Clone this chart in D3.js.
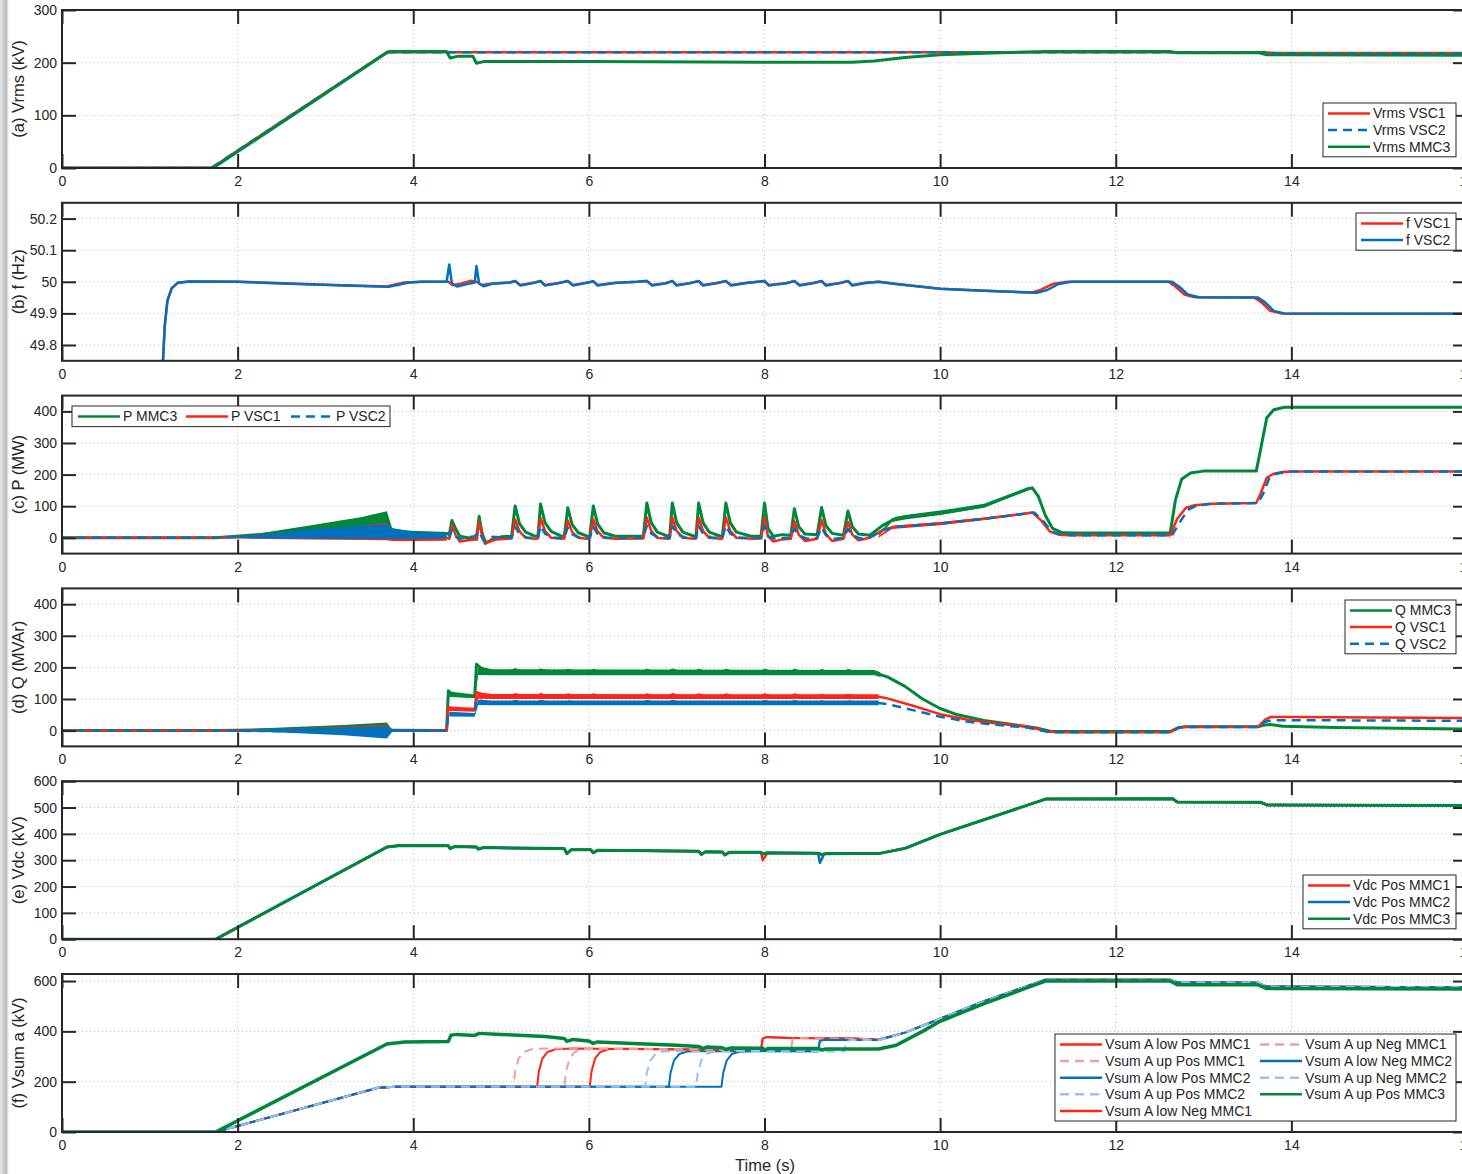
<!DOCTYPE html>
<html>
<head>
<meta charset="utf-8">
<script src="https://cdn.jsdelivr.net/npm/d3@7"></script>
<style>
  body { margin: 0; background: #fff; }
  text { font-family: "Liberation Sans", Arial, sans-serif; fill: #262626; }
</style>
</head>
<body>
<svg id="chart"></svg>
<script>
const width = 1462
const height = 1174

const red = '#ff2416'
const blue = '#0072bd'
const green = '#00883a'
const lightRed = '#f39d9d'
const lightBlue = '#94c2f4'

const xTicks = [0, 2, 4, 6, 8, 10, 12, 14, 16]

// (a) Vrms
const vrmsVSC1 = [[0,0],[1.7,0],[3.7,220],[13.68,220],[13.8,218.5],[16,218.5]]
const vrmsVSC2 = [[0,0],[1.7,0],[3.7,220],[13.7,220],[13.82,218],[16,218]]
const vrmsMMC3 = [[0,0],[1.72,0],[3.72,221],[4.38,221],[4.42,209],[4.5,212],[4.68,212],[4.72,199],[4.8,202],[6,202],[8,201],[9,201],[9.25,203],[9.6,210],[10,215],[10.5,218],[11.2,221],[12.62,221],[12.7,219],[13.62,219],[13.72,215],[16,214]]

// (b) frequency
const fVSC1 = [[1.15,49.75],[1.17,49.86],[1.2,49.94],[1.25,49.98],[1.32,49.997],[1.45,50.001],[2,50],[2.6,49.995],[3.2,49.989],[3.7,49.985],[3.78,49.991],[3.9,49.998],[4.1,50],[4.4,50],[4.45,49.989],[4.55,49.995],[4.65,50.003],[4.72,50],[4.78,49.99],[4.9,49.995],[5.1,49.998],[5.16,50.002],[5.22,49.99],[5.35,49.996],[5.45,50.002],[5.5,49.99],[5.65,49.996],[5.76,50.002],[5.82,49.99],[5.95,49.996],[6.05,50.001],[6.1,49.99],[6.3,49.997],[6.55,50],[6.66,50.002],[6.72,49.99],[6.88,49.996],[6.95,50.002],[7.0,49.99],[7.15,49.996],[7.25,50.002],[7.3,49.99],[7.45,49.996],[7.56,50.002],[7.62,49.99],[7.8,49.997],[8.0,50.002],[8.05,49.99],[8.25,49.996],[8.34,50.002],[8.4,49.99],[8.55,49.996],[8.65,50.002],[8.7,49.99],[8.85,49.996],[8.95,50.002],[9.0,49.99],[9.15,49.997],[9.3,50],[9.5,49.993],[10,49.978],[10.5,49.972],[11.05,49.966],[11.15,49.975],[11.28,49.993],[11.45,50],[12.6,50],[12.68,49.985],[12.78,49.96],[12.9,49.951],[13.58,49.95],[13.66,49.935],[13.76,49.908],[13.88,49.9],[16,49.899]]
const fVSC2 = [[1.15,49.75],[1.17,49.86],[1.2,49.94],[1.25,49.98],[1.32,49.997],[1.45,50.001],[2,50],[2.6,49.994],[3.2,49.988],[3.72,49.984],[3.82,49.99],[3.95,49.998],[4.1,50],[4.38,50],[4.41,50.055],[4.44,49.995],[4.5,49.985],[4.6,49.992],[4.7,49.998],[4.72,50.05],[4.75,49.995],[4.8,49.986],[4.9,49.994],[5.1,49.998],[5.16,50.003],[5.22,49.988],[5.35,49.995],[5.45,50.003],[5.5,49.988],[5.65,49.995],[5.76,50.003],[5.82,49.988],[5.95,49.995],[6.05,50.002],[6.1,49.988],[6.3,49.996],[6.55,50],[6.66,50.003],[6.72,49.988],[6.88,49.995],[6.95,50.003],[7.0,49.988],[7.15,49.995],[7.25,50.003],[7.3,49.988],[7.45,49.995],[7.56,50.003],[7.62,49.988],[7.8,49.996],[8.0,50.003],[8.05,49.988],[8.25,49.995],[8.34,50.003],[8.4,49.988],[8.55,49.995],[8.65,50.003],[8.7,49.988],[8.85,49.995],[8.95,50.003],[9.0,49.988],[9.15,49.996],[9.3,50],[9.5,49.993],[10,49.978],[10.5,49.972],[11.1,49.965],[11.22,49.974],[11.35,49.993],[11.5,50],[12.64,50],[12.72,49.985],[12.82,49.96],[12.95,49.951],[13.62,49.95],[13.7,49.935],[13.8,49.908],[13.92,49.9],[16,49.899]]

// (c) active power
const pMMC3 = [[0,0],[1.75,0],[3.7,40],[3.75,20],[4.38,14],[4.41,10],[4.44,55],[4.48,30],[4.53,5],[4.62,0],[4.72,-5],[4.75,68],[4.78,20],[4.82,-18],[4.9,-5],[5.0,3],[5.12,5],[5.16,101],[5.21,45],[5.28,18],[5.38,6],[5.42,5],[5.45,107],[5.5,48],[5.57,20],[5.68,6],[5.72,5],[5.76,95],[5.81,42],[5.88,16],[5.98,5],[6.01,4],[6.05,101],[6.1,44],[6.17,16],[6.3,5],[6.62,5],[6.66,110],[6.71,48],[6.78,18],[6.9,5],[6.92,5],[6.95,110],[7.0,48],[7.07,18],[7.2,5],[7.22,5],[7.25,110],[7.3,48],[7.37,18],[7.5,5],[7.52,5],[7.56,110],[7.61,48],[7.68,18],[7.85,5],[7.96,5],[8.0,110],[8.04,30],[8.1,5],[8.2,10],[8.3,8],[8.34,92],[8.39,35],[8.46,12],[8.6,10],[8.65,96],[8.7,38],[8.77,14],[8.9,8],[8.95,85],[9.0,35],[9.07,12],[9.2,8],[9.35,40],[9.5,62],[9.7,70],[10,78],[10.5,100],[11.0,155],[11.05,158],[11.12,130],[11.2,70],[11.28,30],[11.38,17],[11.5,15],[12.62,15],[12.68,120],[12.75,185],[12.85,205],[13,211],[13.6,211],[13.65,280],[13.72,380],[13.8,405],[13.92,413],[16,413]]
const pVSC1 = [[0,0],[1.75,0],[3.7,22],[3.75,5],[3.85,-5],[4.38,0],[4.41,-3],[4.44,40],[4.48,10],[4.53,-12],[4.62,-8],[4.72,-5],[4.75,50],[4.79,0],[4.84,-15],[4.95,-5],[5.12,-2],[5.16,58],[5.21,20],[5.28,0],[5.38,-3],[5.42,-2],[5.45,62],[5.5,22],[5.57,0],[5.68,-3],[5.72,-2],[5.76,55],[5.81,18],[5.88,0],[5.98,-3],[6.01,-2],[6.05,58],[6.1,20],[6.17,0],[6.3,-3],[6.62,-2],[6.66,64],[6.71,22],[6.78,0],[6.9,-3],[6.92,-2],[6.95,64],[7.0,22],[7.07,0],[7.2,-3],[7.22,-2],[7.25,64],[7.3,22],[7.37,0],[7.5,-3],[7.52,-2],[7.56,64],[7.61,22],[7.68,0],[7.85,-3],[7.96,-2],[8.0,64],[8.04,5],[8.1,-12],[8.2,-5],[8.3,-3],[8.34,52],[8.39,10],[8.46,-10],[8.6,-3],[8.65,56],[8.7,12],[8.77,-10],[8.9,-3],[8.95,50],[9.0,10],[9.07,-8],[9.2,0],[9.35,25],[9.5,35],[10,45],[10.5,60],[11.05,80],[11.15,55],[11.25,20],[11.35,10],[11.5,8],[12.62,8],[12.7,60],[12.8,95],[12.9,103],[13.1,108],[13.6,110],[13.65,140],[13.72,190],[13.8,203],[13.9,208],[14,210],[16,210]]
const pVSC2 = [[0,0],[1.75,0],[3.7,20],[3.75,8],[3.85,5],[4.38,5],[4.41,0],[4.44,25],[4.48,5],[4.53,-3],[4.7,5],[4.75,20],[4.8,-8],[4.9,3],[5.12,0],[5.16,35],[5.21,12],[5.3,0],[5.42,0],[5.45,38],[5.5,13],[5.6,0],[5.72,0],[5.76,33],[5.81,11],[5.9,0],[6.01,0],[6.05,35],[6.1,12],[6.2,0],[6.62,0],[6.66,38],[6.71,13],[6.8,0],[6.92,0],[6.95,38],[7.0,13],[7.1,0],[7.22,0],[7.25,38],[7.3,13],[7.4,0],[7.52,0],[7.56,38],[7.61,13],[7.7,0],[7.96,0],[8.0,38],[8.04,5],[8.12,-3],[8.3,0],[8.34,30],[8.39,8],[8.48,-3],[8.6,0],[8.65,32],[8.7,8],[8.8,-3],[8.9,0],[8.95,28],[9.0,8],[9.1,-3],[9.2,2],[9.35,25],[9.5,35],[10,45],[10.5,60],[11.07,80],[11.17,55],[11.27,20],[11.37,10],[11.5,8],[12.64,8],[12.72,45],[12.82,88],[12.92,102],[13.1,108],[13.62,110],[13.68,140],[13.75,190],[13.83,203],[13.93,208],[14,210],[16,210]]
const pMMC3Band = [[1.75,0,0],[2.2,0,12],[2.8,2,38],[3.4,4,65],[3.7,6,84],[3.76,14,30],[4.0,13,20],[4.38,12,17]]
const pVSC1Band = [[1.75,0,0],[2.2,-3,9],[2.8,-5,25],[3.4,-7,38],[3.7,-8,48],[3.76,-10,18],[4.0,-10,8],[4.38,-9,6]]
const pVSC2Band = [[1.75,0,0],[2.2,-2,8],[2.8,-3,26],[3.4,-4,38],[3.7,-4,43],[3.76,-4,30],[4.0,-4,18],[4.38,-3,15]]
const pMMC3Band2 = [[9.3,5,12],[9.45,50,62],[9.6,58,72],[10,72,86],[10.5,96,108],[11,150,160],[11.05,154,160]]
const pVSC1Band2 = [[9.3,0,5],[9.45,28,38],[10,40,50],[10.5,56,64],[11.05,76,82]]

// (d) reactive power
const qMMC3 = [[0,0],[1.75,0],[3.7,8],[3.76,1],[4.38,0],[4.4,126],[4.45,114],[4.55,110],[4.7,109],[4.72,210],[4.78,195],[4.9,186],[5.1,184],[5.16,193],[5.25,185],[5.4,184],[5.45,192],[5.55,184],[5.7,183],[5.76,191],[5.86,183],[6.0,183],[6.05,191],[6.15,182],[6.6,182],[6.66,191],[6.76,183],[6.9,183],[6.95,192],[7.05,183],[7.2,183],[7.25,191],[7.35,183],[7.5,183],[7.56,191],[7.66,183],[7.95,183],[8.0,191],[8.1,183],[8.3,183],[8.34,191],[8.44,183],[8.6,183],[8.65,190],[8.75,182],[8.9,183],[8.95,190],[9.05,183],[9.25,183],[9.4,170],[9.6,140],[9.8,100],[10,70],[10.2,50],[10.5,32],[10.8,20],[11.1,8],[11.25,-2],[11.4,-3],[12.62,-3],[12.72,10],[12.8,12],[13.62,12],[13.7,18],[13.76,19],[13.9,14],[14.5,10],[16,5]]
const qVSC1 = [[0,0],[1.75,0],[3.7,3],[3.76,0],[4.38,0],[4.4,75],[4.45,68],[4.7,66],[4.72,122],[4.8,112],[4.9,108],[5.1,107],[5.16,115],[5.25,108],[5.4,107],[5.45,115],[5.55,107],[5.7,107],[5.76,114],[5.86,107],[6.0,107],[6.05,114],[6.15,106],[6.6,106],[6.66,114],[6.76,107],[6.9,107],[6.95,115],[7.05,107],[7.2,107],[7.25,114],[7.35,107],[7.5,107],[7.56,114],[7.66,107],[7.95,107],[8.0,114],[8.1,107],[8.3,107],[8.34,114],[8.44,107],[8.6,107],[8.65,113],[8.75,106],[8.9,106],[8.95,113],[9.05,107],[9.3,107],[9.4,102],[9.7,78],[10,52],[10.3,35],[10.6,24],[11,12],[11.25,-4],[11.4,-5],[12.62,-5],[12.72,10],[12.8,12],[13.62,12],[13.7,35],[13.76,43],[14,43],[16,40]]
const qVSC2 = [[0,0],[1.75,0],[3.7,-5],[3.76,0],[4.38,0],[4.4,58],[4.45,52],[4.7,50],[4.72,100],[4.8,92],[4.9,88],[5.1,87],[5.16,94],[5.25,88],[5.4,87],[5.45,94],[5.55,87],[5.7,87],[5.76,93],[5.86,87],[6.0,87],[6.05,93],[6.15,86],[6.6,86],[6.66,93],[6.76,87],[6.9,87],[6.95,94],[7.05,87],[7.2,87],[7.25,93],[7.35,87],[7.5,87],[7.56,93],[7.66,87],[7.95,87],[8.0,93],[8.1,87],[8.3,87],[8.34,93],[8.44,87],[8.6,87],[8.65,92],[8.75,86],[8.9,86],[8.95,92],[9.05,87],[9.3,87],[9.4,84],[9.7,64],[10,44],[10.3,29],[10.6,19],[11,9],[11.25,-5],[11.4,-5],[12.62,-5],[12.72,9],[12.8,11],[13.62,11],[13.7,28],[13.78,33],[14,33],[16,31]]
const qMMC3Band = [[1.75,0,0],[2.5,-2,10],[3.2,-3,18],[3.7,-4,26],[3.76,-1,3],[4.38,-1,2]]
const qVSC1Band = [[1.75,0,0],[2.5,-4,6],[3.2,-10,12],[3.7,-14,18],[3.76,-2,2],[4.38,-1,1]]
const qVSC2Band = [[1.75,0,0],[2.5,-6,6],[3.2,-15,10],[3.7,-25,14],[3.76,-4,4],[4.38,-2,2]]
const qMMC3Band2 = [[4.41,106,124],[4.7,103,114],[4.74,176,204],[4.9,175,194],[9.25,175,192],[9.32,170,185]]
const qVSC1Band2 = [[4.41,62,76],[4.7,60,72],[4.74,101,121],[4.9,100,116],[9.3,100,115]]
const qVSC2Band2 = [[4.41,45,60],[4.7,44,56],[4.74,81,98],[4.9,80,95],[9.3,80,95]]

// (e) DC voltage
const vdcPosMMC1 = [[0,0],[1.75,0],[3.7,350],[3.85,356],[4.4,355],[4.42,344],[4.47,352],[4.72,350],[4.74,342],[4.8,348],[5.72,344],[5.75,325],[5.8,340],[6.02,340],[6.05,328],[6.1,338],[7.25,334],[7.28,322],[7.33,332],[7.52,331],[7.55,320],[7.6,330],[7.96,330],[7.98,300],[8.03,326],[8.62,326],[8.65,320],[8.7,325],[9.3,325],[9.6,345],[10,398],[11.2,532],[12.65,533],[12.7,521],[13.65,520],[13.72,510],[16,508]]
const vdcPosMMC2 = [[0,0],[1.75,0],[3.7,350],[3.85,356],[4.4,355],[4.42,344],[4.47,352],[4.72,350],[4.74,342],[4.8,348],[5.72,344],[5.75,325],[5.8,340],[6.02,340],[6.05,328],[6.1,338],[7.25,334],[7.28,322],[7.33,332],[7.52,331],[7.55,320],[7.6,330],[7.96,330],[7.98,322],[8.03,328],[8.61,326],[8.63,290],[8.68,324],[9.3,325],[9.6,345],[10,398],[11.2,532],[12.65,533],[12.7,521],[13.65,520],[13.72,510],[16,508]]
const vdcPosMMC3 = [[0,0],[1.75,0],[3.7,350],[3.85,356],[4.4,355],[4.42,344],[4.47,352],[4.72,350],[4.74,342],[4.8,348],[5.72,344],[5.75,325],[5.8,340],[6.02,340],[6.05,328],[6.1,338],[7.25,334],[7.28,322],[7.33,332],[7.52,331],[7.55,320],[7.6,330],[7.96,330],[7.98,324],[8.03,328],[8.62,326],[8.65,322],[8.7,325],[9.3,325],[9.6,345],[10,398],[11.2,532],[12.65,533],[12.7,521],[13.65,520],[13.72,510],[16,508]]

// (f) arm capacitor voltage sums
const vsumLowPosMMC1 = [[0,0],[1.75,0],[3.6,176],[3.8,180],[5.41,180],[5.43,240],[5.47,292],[5.53,318],[5.62,329],[5.8,332],[6.5,330],[7.5,327],[7.96,326],[7.98,372],[8.03,378],[8.3,374],[9.0,372],[9.3,368],[9.6,395],[10,450],[10.5,520],[11.2,605],[12.62,605],[12.7,595],[13.62,593],[13.72,578],[16,575]]
const vsumUpPosMMC1 = [[0,0],[1.75,0],[3.6,176],[3.8,180],[5.14,180],[5.16,240],[5.2,292],[5.26,318],[5.35,329],[5.5,332],[6.5,331],[7.5,328],[8.3,326],[8.32,368],[8.37,374],[9.0,370],[9.3,368],[9.6,395],[10,450],[10.5,520],[11.2,605],[12.62,605],[12.7,595],[13.62,593],[13.72,578],[16,575]]
const vsumLowPosMMC2 = [[0,0],[1.75,0],[3.6,176],[3.8,180],[6.91,180],[6.93,235],[6.97,285],[7.03,310],[7.12,320],[7.3,322],[8.0,321],[8.61,321],[8.63,362],[8.68,368],[9.0,366],[9.3,366],[9.6,395],[10,450],[10.5,520],[11.2,605],[12.62,605],[12.7,595],[13.62,593],[13.72,578],[16,575]]
const vsumUpPosMMC2 = [[0,0],[1.75,0],[3.6,176],[3.8,180],[6.64,180],[6.66,235],[6.7,285],[6.76,310],[6.85,320],[7.0,322],[8.0,321],[8.91,321],[8.93,360],[8.98,366],[9.3,365],[9.6,395],[10,450],[10.5,520],[11.2,605],[12.62,605],[12.7,595],[13.62,593],[13.72,578],[16,575]]
const vsumLowNegMMC1 = [[0,0],[1.75,0],[3.6,176],[3.8,180],[6.01,180],[6.03,240],[6.07,292],[6.13,318],[6.22,329],[6.4,331],[7.5,327],[7.96,326],[7.98,372],[8.03,377],[8.3,374],[9.0,372],[9.3,368],[9.6,395],[10,450],[10.5,520],[11.2,605],[12.62,605],[12.7,595],[13.62,593],[13.72,578],[16,575]]
const vsumUpNegMMC1 = [[0,0],[1.75,0],[3.6,176],[3.8,180],[5.72,180],[5.74,240],[5.78,292],[5.84,318],[5.93,329],[6.1,331],[7.5,328],[8.3,326],[8.32,368],[8.37,373],[9.0,370],[9.3,368],[9.6,395],[10,450],[10.5,520],[11.2,605],[12.62,605],[12.7,595],[13.62,593],[13.72,578],[16,575]]
const vsumLowNegMMC2 = [[0,0],[1.75,0],[3.6,176],[3.8,180],[7.51,180],[7.53,235],[7.57,285],[7.63,310],[7.72,320],[7.9,322],[8.61,321],[8.63,362],[8.68,367],[9.0,366],[9.3,366],[9.6,395],[10,450],[10.5,520],[11.2,605],[12.62,605],[12.7,595],[13.62,593],[13.72,578],[16,575]]
const vsumUpNegMMC2 = [[0,0],[1.75,0],[3.6,176],[3.8,180],[7.22,180],[7.24,235],[7.28,285],[7.34,310],[7.43,320],[7.6,322],[8.91,321],[8.93,360],[8.98,366],[9.3,365],[9.6,395],[10,450],[10.5,520],[11.2,605],[12.62,605],[12.7,595],[13.62,593],[13.72,578],[16,575]]
const vsumUpPosMMC3 = [[0,0],[1.75,0],[3.7,350],[3.9,358],[4.4,360],[4.43,385],[4.5,388],[4.7,384],[4.75,392],[5.0,388],[5.5,380],[5.72,372],[5.75,360],[5.82,368],[6.0,362],[6.05,352],[6.1,358],[6.5,352],[7.0,345],[7.25,340],[7.3,332],[7.35,338],[7.52,335],[7.56,328],[7.62,334],[7.98,333],[8.0,326],[8.05,332],[8.62,332],[8.65,326],[8.7,330],[9.3,330],[9.5,345],[9.8,400],[10,440],[10.5,510],[11,575],[11.2,600],[12.62,600],[12.7,585],[13.62,585],[13.72,570],[16,568]]

const panels = [
  {
    label: '(a) Vrms (kV)', domain: [0, 300], ticks: [0, 100, 200, 300],
    series: [
      { name: 'Vrms VSC1', data: vrmsVSC1, color: red },
      { name: 'Vrms VSC2', data: vrmsVSC2, color: blue, dash: true },
      { name: 'Vrms MMC3', data: vrmsMMC3, color: green }
    ],
    legend: { x: 1323, y: 103, w: 133, rows: 3, colX: [5] }
  },
  {
    label: '(b) f (Hz)', domain: [49.75, 50.25], ticks: [49.8, 49.9, 50, 50.1, 50.2],
    series: [
      { name: 'f VSC1', data: fVSC1, color: red },
      { name: 'f VSC2', data: fVSC2, color: blue }
    ],
    legend: { x: 1356, y: 213, w: 100, rows: 2, colX: [5] }
  },
  {
    label: '(c) P (MW)', domain: [-50, 450], ticks: [0, 100, 200, 300, 400],
    series: [
      { name: 'P MMC3', data: pMMC3, color: green, bands: [pMMC3Band, pMMC3Band2] },
      { name: 'P VSC1', data: pVSC1, color: red, bands: [pVSC1Band, pVSC1Band2] },
      { name: 'P VSC2', data: pVSC2, color: blue, dash: true, bands: [pVSC2Band] }
    ],
    legend: { x: 72, y: 406, w: 318, rows: 1, colX: [6, 114, 219] }
  },
  {
    label: '(d) Q (MVAr)', domain: [-50, 450], ticks: [0, 100, 200, 300, 400],
    series: [
      { name: 'Q MMC3', data: qMMC3, color: green, bands: [qMMC3Band, qMMC3Band2] },
      { name: 'Q VSC1', data: qVSC1, color: red, bands: [qVSC1Band, qVSC1Band2] },
      { name: 'Q VSC2', data: qVSC2, color: blue, dash: true, bands: [qVSC2Band, qVSC2Band2] }
    ],
    legend: { x: 1345, y: 600, w: 111, rows: 3, colX: [5] }
  },
  {
    label: '(e) Vdc (kV)', domain: [0, 600], ticks: [0, 100, 200, 300, 400, 500, 600],
    series: [
      { name: 'Vdc Pos MMC1', data: vdcPosMMC1, color: red },
      { name: 'Vdc Pos MMC2', data: vdcPosMMC2, color: blue },
      { name: 'Vdc Pos MMC3', data: vdcPosMMC3, color: green }
    ],
    legend: { x: 1303, y: 875, w: 153, rows: 3, colX: [5] }
  },
  {
    label: '(f) Vsum a (kV)', domain: [0, 628], ticks: [0, 200, 400, 600],
    series: [
      { name: 'Vsum A low Pos MMC1', data: vsumLowPosMMC1, color: red, width: 2 },
      { name: 'Vsum A up Pos MMC1', data: vsumUpPosMMC1, color: lightRed, dash: true, width: 2 },
      { name: 'Vsum A low Pos MMC2', data: vsumLowPosMMC2, color: blue, width: 2 },
      { name: 'Vsum A up Pos MMC2', data: vsumUpPosMMC2, color: lightBlue, dash: true, width: 2 },
      { name: 'Vsum A low Neg MMC1', data: vsumLowNegMMC1, color: red, width: 2 },
      { name: 'Vsum A up Neg MMC1', data: vsumUpNegMMC1, color: lightRed, dash: true, width: 2 },
      { name: 'Vsum A low Neg MMC2', data: vsumLowNegMMC2, color: blue, width: 2 },
      { name: 'Vsum A up Neg MMC2', data: vsumUpNegMMC2, color: lightBlue, dash: true, width: 2 },
      { name: 'Vsum A up Pos MMC3', data: vsumUpPosMMC3, color: green, width: 3.5 }
    ],
    legend: { x: 1055, y: 1034, w: 401, rows: 5, colX: [5, 205] }
  }
]

const svg = d3.select('#chart').attr('width', width).attr('height', height)

// grey shadow on the left edge of the figure
const grad = svg.append('defs').append('linearGradient').attr('id', 'edge')
grad.append('stop').attr('offset', '0%').attr('stop-color', '#e6e6e6')
grad.append('stop').attr('offset', '70%').attr('stop-color', '#bcbcbc')
grad.append('stop').attr('offset', '100%').attr('stop-color', '#ffffff')
svg.append('rect').attr('width', width).attr('height', height).attr('fill', '#fff')
svg.append('rect').attr('x', 0).attr('y', 0).attr('width', 9).attr('height', height).attr('fill', 'url(#edge)')

const left = 62
const right = 1467
const panelH = 158
const x = d3.scaleLinear().domain([0, 16]).range([left, right])

panels.forEach((p, i) => {
  const top = 10 + i * 192.8
  const bottom = top + panelH
  const y = d3.scaleLinear().domain(p.domain).range([bottom, top])
  const g = svg.append('g')

  g.append('clipPath').attr('id', 'clip' + i)
    .append('rect').attr('x', left).attr('y', top).attr('width', right - left).attr('height', panelH)

  // dotted grid
  g.append('g').selectAll('line').data(xTicks).enter().append('line')
    .attr('x1', d => x(d)).attr('x2', d => x(d)).attr('y1', top).attr('y2', bottom)
    .attr('stroke', '#b8b8b8').attr('stroke-width', 1).attr('stroke-dasharray', '1,3')
  g.append('g').selectAll('line').data(p.ticks).enter().append('line')
    .attr('x1', left).attr('x2', right).attr('y1', d => y(d)).attr('y2', d => y(d))
    .attr('stroke', '#b8b8b8').attr('stroke-width', 1).attr('stroke-dasharray', '1,3')

  // data
  const plot = g.append('g').attr('clip-path', `url(#clip${i})`)
  const line = d3.line().x(d => x(d[0])).y(d => y(d[1]))
  const area = d3.area().x(d => x(d[0])).y0(d => y(d[1])).y1(d => y(d[2]))
  p.series.forEach(s => {
    ;(s.bands || []).forEach(b => {
      plot.append('path').datum(b).attr('d', area).attr('fill', s.color)
    })
    plot.append('path').datum(s.data).attr('d', line)
      .attr('fill', 'none')
      .attr('stroke', s.color)
      .attr('stroke-width', s.width || (s.color === green ? 3 : 2.5))
      .attr('stroke-linejoin', 'round')
      .attr('stroke-dasharray', s.dash ? '9,6' : null)
  })

  // axes, ticks pointing inward
  const styleAxis = sel => {
    sel.select('.domain').remove()
    sel.selectAll('.tick line').attr('stroke', '#262626').attr('stroke-width', 2)
    sel.selectAll('.tick text').attr('font-size', 14).attr('font-family', '"Liberation Sans", Arial, sans-serif').attr('fill', '#262626')
  }
  g.append('g').attr('transform', `translate(0,${bottom})`)
    .call(d3.axisBottom(x).tickValues(xTicks).tickSize(-14).tickPadding(8).tickFormat(d3.format('d')))
    .call(styleAxis)
  g.append('g').attr('transform', `translate(0,${top})`)
    .call(d3.axisTop(x).tickValues(xTicks).tickSize(-14).tickFormat(''))
    .call(styleAxis)
  g.append('g').attr('transform', `translate(${left},0)`)
    .call(d3.axisLeft(y).tickValues(p.ticks).tickSize(-14).tickPadding(5).tickFormat(d => String(+d.toFixed(1))))
    .call(styleAxis)
  g.append('g').attr('transform', `translate(${right},0)`)
    .call(d3.axisRight(y).tickValues(p.ticks).tickSize(-14).tickFormat(''))
    .call(styleAxis)

  g.append('rect').attr('x', left).attr('y', top).attr('width', right - left).attr('height', panelH)
    .attr('fill', 'none').attr('stroke', '#262626').attr('stroke-width', 2)

  g.append('text')
    .attr('transform', `translate(24,${(top + bottom) / 2}) rotate(-90)`)
    .attr('text-anchor', 'middle')
    .attr('font-size', 16.5)
    .text(p.label)

  // legend
  const lg = p.legend
  const rowH = 16.6
  const nCols = Math.ceil(p.series.length / lg.rows)
  const boxH = lg.rows * rowH + 4
  const leg = g.append('g')
  leg.append('rect').attr('x', lg.x).attr('y', lg.y).attr('width', lg.w).attr('height', boxH)
    .attr('fill', '#fff').attr('stroke', '#262626').attr('stroke-width', 1)
  p.series.forEach((s, k) => {
    const col = Math.floor(k / lg.rows)
    const row = k % lg.rows
    const lx = lg.x + lg.colX[Math.min(col, nCols - 1)]
    const ly = lg.y + 10.5 + row * rowH
    leg.append('line').attr('x1', lx).attr('x2', lx + 42).attr('y1', ly).attr('y2', ly)
      .attr('stroke', s.color).attr('stroke-width', 2.5)
      .attr('stroke-dasharray', s.dash ? '9,6' : null)
    leg.append('text').attr('x', lx + 45).attr('y', ly).attr('dy', '0.35em')
      .attr('font-size', 14).text(s.name)
  })
})

svg.append('text').attr('x', 765).attr('y', 1171).attr('text-anchor', 'middle')
  .attr('font-size', 16.5).text('Time (s)')
</script>
</body>
</html>
